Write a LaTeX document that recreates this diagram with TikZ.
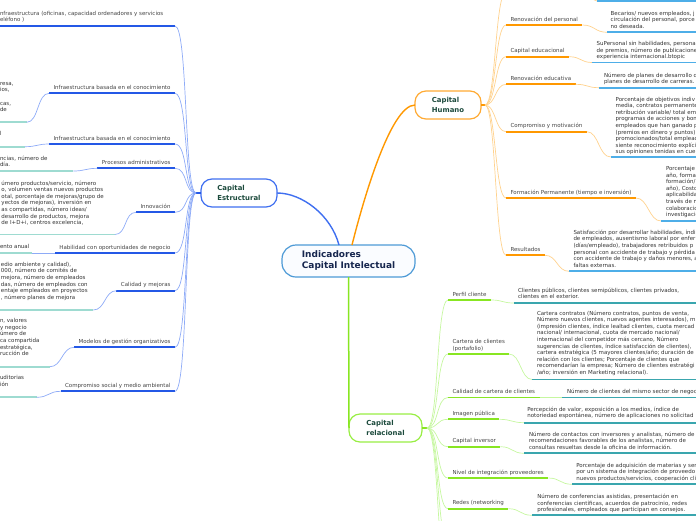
\documentclass[tikz,border=0pt]{standalone}
\usepackage{fontspec}
\setmainfont{DejaVu Sans}
\usepackage{tikz}
\usetikzlibrary{positioning}

\definecolor{mainedge}{HTML}{4D9AD6}
\definecolor{mainfill}{HTML}{FAFCFF}
\definecolor{maintext}{HTML}{16264E}
\definecolor{topictext}{HTML}{1C4A3C}
\definecolor{lbltext}{HTML}{444444}
\definecolor{notetext}{HTML}{333333}
\definecolor{estedge}{HTML}{3F6FF0}
\definecolor{estblue}{HTML}{2458E6}
\definecolor{estconn}{HTML}{8EABF7}
\definecolor{estteal}{HTML}{9EDBD1}
\definecolor{humedge}{HTML}{FFAA33}
\definecolor{humorange}{HTML}{FF9800}
\definecolor{humconn}{HTML}{FFD28E}
\definecolor{humsky}{HTML}{4EAEE8}
\definecolor{reledge}{HTML}{99EE44}
\definecolor{relgreen}{HTML}{88E622}
\definecolor{relconn}{HTML}{C6F7A0}
\definecolor{relteal}{HTML}{3AA6AE}

\begin{document}
\begin{tikzpicture}[x=1pt,y=-1pt,
  every node/.style={inner sep=0pt,outer sep=0pt},
  topic/.style={draw,line width=1.2pt,rounded corners=11pt,fill=white,align=left,
    text=topictext,font=\fontsize{6.9}{9.3}\selectfont\bfseries},
  lbl/.style={font=\fontsize{5.5}{6.6}\selectfont,text=lbltext,text height=4.2pt,
    text depth=1.4pt,inner xsep=4.5pt,inner ysep=2.6pt},
  % notes are placed at the baseline of their last line
  note/.style={font=\fontsize{5.5}{6.6}\selectfont,text=notetext,align=left,anchor=base west},
  ulE/.style={draw=estblue,line width=1.8pt},
  tlE/.style={draw=estteal,line width=1.8pt},
  conE/.style={draw=estconn,line width=0.7pt},
  ulH/.style={draw=humorange,line width=1.8pt},
  tlH/.style={draw=humsky,line width=1.8pt},
  conH/.style={draw=humconn,line width=0.7pt},
  ulR/.style={draw=relgreen,line width=1.8pt},
  tlR/.style={draw=relteal,line width=1.8pt},
  conR/.style={draw=relconn,line width=0.7pt}]
  \useasboundingbox (0,0) rectangle (696,520);
  \clip (0,0) rectangle (696,520);

  % central topic and the three main branches
  \node[topic,draw=mainedge,fill=mainfill,text=maintext,rounded corners=14pt,
    font=\fontsize{9}{11}\selectfont\bfseries,minimum width=133pt,minimum height=32pt]
    (ci) at (348.5,261) {Indicadores\\Capital Intelectual};
  \node[topic,draw=estedge,minimum width=76pt,minimum height=28pt] (ce) at (239,193) {Capital\\Estructural};
  \node[topic,draw=humedge,minimum width=66pt,minimum height=28pt] (ch) at (448,105) {Capital\\Humano};
  \node[topic,draw=reledge,minimum width=73pt,minimum height=28pt] (cr) at (385.5,428) {Capital\\relacional};

  \draw[estedge,line width=1.4pt] ([xshift=-9.5pt]ci.north) .. controls +(-8,-30) and +(25,0) .. (ce.east);
  \draw[humorange,line width=1.4pt] ([xshift=3.5pt]ci.north) .. controls +(10,-40) and +(-25,0) .. (ch.west);
  \draw[relgreen,line width=1.5pt] (ci.south) -- (cr.west);

  % ---------------- Capital Estructural ----------------
  \coordinate (jE) at (196,193);
  \draw[estblue,line width=1.4pt] (ce.west) -- (jE);

  \node[note,text=lbltext] (e1) at (0,21.9)
    {nfraestructura (oficinas, capacidad ordenadores y servicios\\eléfono )};
  \coordinate (e1a) at (-2,26);
  \coordinate (e1b) at (175,26);
  \draw[ulE] (e1a) -- (e1b);
  \node[lbl,anchor=south east] (e2) at (175,93.3) {Infraestructura basada en el conocimiento};
  \node[lbl,anchor=south east] (e3) at (175,144) {Infraestructura basada en el conocimiento};
  \node[lbl,anchor=south east] (e4) at (175,168.3) {Procesos administrativos};
  \node[lbl,anchor=south east] (e5) at (175,212.3) {Innovación};
  \node[lbl,anchor=south east] (e6) at (175,253) {Habilidad con oportunidades de negocio};
  \node[lbl,anchor=south east] (e7) at (175,290.7) {Calidad y mejoras};
  \node[lbl,anchor=south east] (e8) at (175,347.3) {Modelos de gestión organizativos};
  \node[lbl,anchor=south east] (e9) at (175,391.3) {Compromiso social y medio ambiental};

  \draw[conE] (e1b) .. controls +(13,0) and +(-12,0) .. (jE);
  \foreach \n in {e2,e3,e4,e5,e6,e7,e8,e9}{
    \draw[ulE] (\n.south west) -- (\n.south east);
    \draw[conE] (\n.south east) .. controls +(13,0) and +(-12,0) .. (jE);
  }

  % notes of Capital Estructural (cut at the left edge)
  \node[note] (e2n) at (0,111.7) {resa,\\ios,\\\mbox{}\\cas,\\de};
  \node[note] (e3n) at (-0.5,135.3) {l};
  \node[note] (e4n) at (0,166.9) {ncias, número de\\día.};
  \node[note] (e5n) at (1.5,224.6) {úmero productos/servicio, número\\o, volumen ventas nuevos productos\\otal, porcentaje de mejoras/grupo de\\yectos de mejoras), inversión en\\as compartidas, número ideas/\\desarrollo de productos, mejora\\de I+D+i, centros excelencia,};
  \node[note] (e6n) at (0,248) {ento anual};
  \node[note] (e7n) at (1,299.3) {edio ambiente y calidad),\\000, número de comités de\\mejora, número de empleados\\das, número de empleados con\\entaje empleados en proyectos\\, número planes de mejora};
  \node[note] (e8n) at (0,355.7) {n, valores\\y negocio\\úmero de\\ca compartida\\estratégica,\\rucción de};
  \node[note] (e9n) at (0,386.3) {uditorias\\ión};

  \coordinate (e2t) at (26.7,122.3);
  \coordinate (e3t) at (25,146.7);
  \coordinate (e4t) at (73.3,171);
  \coordinate (e5t) at (115,234.5);
  \coordinate (e6t) at (31.7,253);
  \coordinate (e7t) at (93.3,310);
  \coordinate (e8t) at (50,366.7);
  \coordinate (e9t) at (36.7,397.3);
  \foreach \n in {e2,e3,e4,e5,e6,e7,e8,e9}{
    \draw[tlE] (\n t -| -2,0) -- (\n t);
    \draw[conE] (\n t) .. controls +(12,0) and +(-12,0) .. (\n.south west);
  }

  % ---------------- Capital Humano ----------------
  \coordinate (jH) at (485,105);
  \draw[humorange,line width=1.4pt] (ch.east) -- (jH);

  \node[lbl,anchor=south west] (h2) at (506,25) {Renovación del personal};
  \node[lbl,anchor=south west] (h3) at (506,56.7) {Capital educacional};
  \node[lbl,anchor=south west] (h4) at (506,84.3) {Renovación educativa};
  \node[lbl,anchor=south west] (h5) at (506,131.7) {Compromiso y motivación};
  \node[lbl,anchor=south west] (h6) at (506,198) {Formación Permanente (tiempo e inversión)};
  \node[lbl,anchor=south west] (h7) at (506,255.3) {Resultados};

  % branch above the top edge
  \coordinate (h1a) at (506,-8);
  \coordinate (h1b) at (585,-8);
  \coordinate (h1t) at (597,1);
  \draw[conH] (jH) .. controls +(11,0) and +(-11,0) .. (h1a);
  \draw[ulH] (h1a) -- (h1b);
  \draw[conH] (h1b) .. controls +(6,0) and +(-6,0) .. (h1t);
  \draw[tlH] (h1t) -- (700,1);

  \node[note] (h2n) at (610.7,28.5) {Becarios/ nuevos empleados, j\\circulación del personal, porce\\no deseada.};
  \node[note] (h3n) at (596.7,58.9) {SuPersonal sin habilidades, persona\\de premios, número de publicacione\\experiencia internacional.btopic};
  \node[note] (h4n) at (604,83.9) {Número de planes de desarrollo d\\planes de desarrollo de carreras.};
  \node[note] (h5n) at (615.7,153.8) {Porcentaje de objetivos indiv\\media, contratos permanente\\retribución variable/ total em\\programas de acciones y bon\\empleados que han ganado p\\(premios en dinero y puntos)\\promocionados/total emplead\\siente reconocimiento explíci\\sus opiniones tenidas en cue};
  \node[note] (h6n) at (666,216.7) {Porcentaje\\año, forma\\formación/\\año), Costo\\aplicabilida\\través de n\\colaboracio\\investigació};
  \node[note] (h7n) at (573.5,267.3) {Satisfacción por desarrollar habilidades, índi\\de empleados, ausentismo laboral por enfer\\(días/empleado), trabajadores retribuidos p\\personal con accidente de trabajo y pérdida\\con accidente de trabajo y daños menores, a\\faltas externas.};

  \coordinate (h2t) at (607,32.3);
  \coordinate (h3t) at (592.3,62.5);
  \coordinate (h4t) at (599,87.7);
  \coordinate (h5t) at (610.7,157);
  \coordinate (h6t) at (661,221);
  \coordinate (h7t) at (569,271.3);
  \foreach \n in {h2,h3,h4,h5,h6,h7}{
    \draw[conH] (jH) .. controls +(11,0) and +(-11,0) .. (\n.south west);
    \draw[ulH] (\n.south west) -- (\n.south east);
    \draw[conH] (\n.south east) .. controls +(12,0) and +(-12,0) .. (\n t);
    \draw[tlH] (\n t) -- (\n t -| 700,0);
  }

  % ---------------- Capital relacional ----------------
  \coordinate (jR) at (427,428);
  \draw[relgreen,line width=1.4pt] (cr.east) -- (jR);

  \node[lbl,anchor=south west] (r1) at (448,300) {Perfil cliente};
  \node[note,text=lbltext] (r2) at (452.5,350) {Cartera de clientes\\(portafolio)};
  \coordinate (r2a) at (448,354);
  \coordinate (r2b) at (509,354);
  \node[lbl,anchor=south west] (r3) at (448,397.5) {Calidad de cartera de clientes};
  \node[lbl,anchor=south west] (r4) at (448,419.3) {Imagen pública};
  \node[lbl,anchor=south west] (r5) at (448,446.7) {Capital inversor};
  \node[lbl,anchor=south west] (r6) at (448,478) {Nivel de integración proveedores};
  \node[lbl,anchor=south west] (r7) at (448,508.7) {Redes (networking};

  \node[note] (r1n) at (518,298.9) {Clientes públicos, clientes semipúblicos, clientes privados,\\clientes en el exterior.};
  \node[note] (r2n) at (537,374.4) {Cartera contratos (Número contratos, puntos de venta,\\Número nuevos clientes, nuevos agentes interesados), m\\(impresión clientes, índice lealtad clientes, cuota mercad\\nacional/ internacional, cuota de mercado nacional/\\internacional del competidor más cercano, Número\\sugerencias de clientes, índice satisfacción de clientes),\\cartera estratégica (5 mayores clientes/año; duración de\\relación con los clientes; Porcentaje de clientes que\\recomendarían la empresa; Número de clientes estratégi\\/año; inversión en Marketing relacional).};
  \node[note] (r3n) at (567,393.7) {Número de clientes del mismo sector de negoc};
  \node[note] (r4n) at (527.3,417.9) {Percepción de valor, exposición a los medios, índice de\\notoriedad espontánea, número de aplicaciones no solicitad};
  \node[note] (r5n) at (529,449.5) {Número de contactos con inversores y analistas, número de\\recomendaciones favorables de los analistas, número de\\consultas resueltas desde la oficina de información.};
  \node[note] (r6n) at (576.3,480.2) {Porcentaje de adquisición de materias y ser\\por un sistema de integración de proveedo\\nuevos productos/servicios, cooperación cli};
  \node[note] (r7n) at (537.3,511.9) {Número de conferencias asistidas, presentación en\\conferencias científicas, acuerdos de patrocinio, redes\\profesionales, empleados que participan en consejos.};

  \coordinate (r1t) at (514,303);
  \coordinate (r2t) at (532.3,379.5);
  \coordinate (r3t) at (562,397.5);
  \coordinate (r4t) at (524,422.7);
  \coordinate (r5t) at (524,453.3);
  \coordinate (r6t) at (572,484.3);
  \coordinate (r7t) at (532,515.3);

  % two-line label
  \draw[conR] (jR) .. controls +(12,0) and +(-12,0) .. (r2a);
  \draw[ulR] (r2a) -- (r2b);
  \draw[conR] (r2b) .. controls +(12,0) and +(-12,0) .. (r2t);
  \draw[tlR] (r2t) -- (700,379.5);
  \foreach \n in {r1,r3,r4,r5,r6,r7}{
    \draw[conR] (jR) .. controls +(12,0) and +(-12,0) .. (\n.south west);
    \draw[ulR] (\n.south west) -- (\n.south east);
    \draw[conR] (\n.south east) .. controls +(12,0) and +(-12,0) .. (\n t);
    \draw[tlR] (\n t) -- (\n t -| 700,0);
  }
  % branches below the bottom edge
  \coordinate (r8a) at (449,545);
  \coordinate (r9a) at (449,585);
  \draw[conR] (jR) .. controls +(12,0) and +(-12,0) .. (r8a);
  \draw[conR] (jR) .. controls +(12,0) and +(-12,0) .. (r9a);
\end{tikzpicture}
\end{document}
